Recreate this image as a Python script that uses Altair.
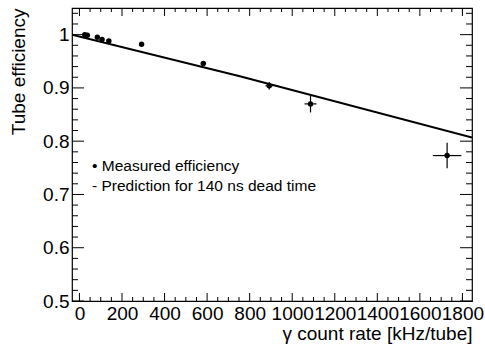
import altair as alt
import pandas as pd

rate = [25, 37, 84, 106, 138, 292, 582, 892, 1086, 1728]
eff = [1.000, 0.999, 0.995, 0.991, 0.988, 0.982, 0.946, 0.904, 0.870, 0.773]
rate_err = [0, 0, 0, 0, 0, 0, 0, 17, 28, 67]
eff_err = [0, 0, 0, 0, 0, 0, 0, 0.007, 0.016, 0.024]

# Prediction for 140 ns dead time
pred_rate = [-35, 754, 1845]
pred_eff = [1.000, 0.922, 0.807]

# Axis ticks
x_major = [0, 200, 400, 600, 800, 1000, 1200, 1400, 1600, 1800]
x_minor = [50, 100, 150, 250, 300, 350, 450, 500, 550, 650, 700, 750, 850, 900, 950,
           1050, 1100, 1150, 1250, 1300, 1350, 1450, 1500, 1550, 1650, 1700, 1750, 1800]
y_major = [0.5, 0.6, 0.7, 0.8, 0.9, 1.0]
y_minor = [0.52, 0.54, 0.56, 0.58, 0.62, 0.64, 0.66, 0.68, 0.72, 0.74, 0.76, 0.78,
           0.82, 0.84, 0.86, 0.88, 0.92, 0.94, 0.96, 0.98, 1.02, 1.04]

legend_lines = ["• Measured efficiency", "- Prediction for 140 ns dead time"]

W, H = 400, 293
FONT = "Liberation Sans"

df = pd.DataFrame({"rate": rate, "eff": eff, "rerr": rate_err, "eerr": eff_err})
df["rlo"] = df["rate"] - df["rerr"]
df["rhi"] = df["rate"] + df["rerr"]
df["elo"] = df["eff"] - df["eerr"]
df["ehi"] = df["eff"] + df["eerr"]
derr = df[df["rerr"] > 0]

xs = alt.Scale(domain=[-35, 1845], nice=False, zero=False)
ys = alt.Scale(domain=[0.5, 1.05], nice=False, zero=False)

x_axis = alt.Axis(orient="bottom", values=x_major, ticks=False, domain=False, grid=False,
                  labelFont=FONT, labelFontSize=19, labelColor="black",
                  labelPadding=3, labelFlush=False, labelOverlap=False, labelBound=False,
                  format="d",
                  title="γ count rate [kHz/tube]", titleFont=FONT, titleFontSize=19,
                  titleFontWeight="normal", titleColor="black",
                  titleAlign="right", titleAnchor="end", titleX=W, titleY=38,
                  titleBaseline="alphabetic")
y_axis = alt.Axis(orient="left", values=y_major, ticks=False, domain=False, grid=False,
                  labelFont=FONT, labelFontSize=19, labelColor="black",
                  labelPadding=3, labelFlush=False, labelOverlap=False, labelBound=False,
                  format="~g",
                  title="Tube efficiency", titleFont=FONT, titleFontSize=19,
                  titleFontWeight="normal", titleColor="black",
                  titleAngle=270, titleAlign="right", titleAnchor="end",
                  titleX=-48, titleY=0, titleBaseline="alphabetic")

def X(field):
    return alt.X(field, type="quantitative", scale=xs, axis=x_axis)

def Y(field):
    return alt.Y(field, type="quantitative", scale=ys, axis=y_axis)

points = alt.Chart(df).mark_circle(size=30, color="black", opacity=1).encode(
    x=X("rate"), y=Y("eff"))

xbars = alt.Chart(derr).mark_rule(color="black", strokeWidth=1.2).encode(
    x=X("rlo"), x2="rhi:Q", y=Y("eff"))
ybars = alt.Chart(derr).mark_rule(color="black", strokeWidth=1.2).encode(
    x=X("rate"), y=Y("elo"), y2="ehi:Q")

pred = alt.Chart(pd.DataFrame({"rate": pred_rate, "eff": pred_eff})).mark_line(
    color="black", strokeWidth=2, clip=True).encode(x=X("rate"), y=Y("eff"))

def xticks(vals, y0, y1):
    return alt.Chart(pd.DataFrame({"rate": vals})).mark_rule(color="black", strokeWidth=1).encode(
        x=X("rate"), y=alt.value(y0), y2=alt.value(y1))

def yticks(vals, x0, x1):
    return alt.Chart(pd.DataFrame({"eff": vals})).mark_rule(color="black", strokeWidth=1).encode(
        y=Y("eff"), x=alt.value(x0), x2=alt.value(x1))

ticks = [
    xticks(x_major, H, H - 8), xticks(x_minor, H, H - 4),
    xticks(x_major, 0, 8), xticks(x_minor, 0, 4),
    yticks(y_major, 0, 12), yticks(y_minor, 0, 6),
    yticks(y_major, W - 12, W), yticks(y_minor, W - 6, W),
]

def legend_text(t, ypix):
    return alt.Chart(pd.DataFrame({"t": [t]})).mark_text(
        align="left", baseline="alphabetic", font=FONT, fontSize=15.5, color="black").encode(
        text="t:N", x=alt.value(20), y=alt.value(ypix))

leg1 = legend_text(legend_lines[0], 162.5)
leg2 = legend_text(legend_lines[1], 182.5)

chart = alt.layer(points, pred, xbars, ybars, *ticks, leg1, leg2).properties(
    width=W, height=H,
    autosize=alt.AutoSizeParams(type="none"),
    padding={"left": 72, "top": 8, "right": 13, "bottom": 47},
    background="white",
).configure_view(stroke="black", strokeWidth=1.2)

chart.save("out.html", embed_options={"renderer": "svg", "actions": False})
